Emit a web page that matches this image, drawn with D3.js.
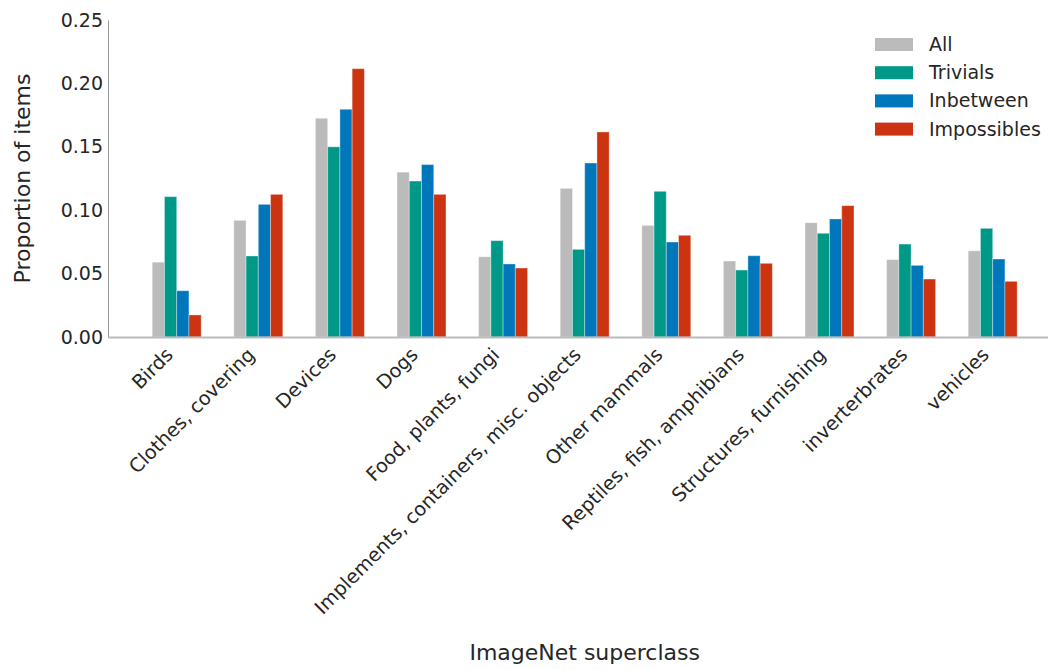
<!DOCTYPE html>
<html><head><meta charset="utf-8">
<script src="https://cdn.jsdelivr.net/npm/d3@7"></script>
<style>body{margin:0;background:#fff}svg{display:block}text{font-family:"DejaVu Sans",sans-serif;fill:#262626}</style>
</head><body>
<svg id="c" width="1048" height="669"></svg>
<script>
const categories = ["Birds","Clothes, covering","Devices","Dogs","Food, plants, fungi","Implements, containers, misc. objects","Other mammals","Reptiles, fish, amphibians","Structures, furnishing","inverterbrates","vehicles"];
const seriesNames = ["All","Trivials","Inbetween","Impossibles"];
const seriesColors = ["#bbbbbb","#009988","#0077bb","#cc3311"];
const allValues        = [0.059,0.092,0.1725,0.130,0.0633,0.1172,0.0880,0.0599,0.0901,0.0610,0.0680];
const trivialsValues   = [0.1107,0.0639,0.150,0.123,0.0760,0.0691,0.1149,0.0528,0.0818,0.0733,0.0857];
const inbetweenValues  = [0.0365,0.1046,0.1796,0.136,0.0576,0.1372,0.0749,0.0641,0.0931,0.0565,0.0615];
const impossiblesValues= [0.0174,0.1125,0.2116,0.1125,0.0544,0.1617,0.0802,0.0581,0.1036,0.0457,0.0439];
const yTicks = [0,0.05,0.10,0.15,0.20,0.25];
const seriesValues = [allValues,trivialsValues,inbetweenValues,impossiblesValues];

const svg = d3.select("#c");
const mLeft = 108, mRight = 1061.4, mTop = 20, mBottom = 337;
const x = d3.scaleLinear().domain([-0.842, categories.length - 1 + 0.842]).range([mLeft, mRight]);
const y = d3.scaleLinear().domain([0, 0.25]).range([mBottom, mTop]);
const bw = 0.15;

// bars
seriesValues.forEach((vals, k) => {
  svg.append("g").selectAll("rect").data(vals).join("rect")
    .attr("x", (d, i) => x(i - 0.3 + k * bw))
    .attr("width", x(bw) - x(0))
    .attr("y", d => y(d))
    .attr("height", d => y(0) - y(d))
    .attr("fill", seriesColors[k])
    .attr("stroke", "#fff").attr("stroke-opacity", 0.35).attr("stroke-width", 1);
});

// y axis
const ya = svg.append("g").attr("transform", `translate(${mLeft},0)`)
  .call(d3.axisLeft(y).tickValues(yTicks).tickFormat(d3.format(".2f")).tickSize(0).tickPadding(5));
ya.select(".domain").attr("stroke", "#999").attr("stroke-width", 1);
ya.selectAll("text").style("font-size", "19px").attr("fill", "#262626").style("font-family", '"DejaVu Sans"');

// x axis
const xa = svg.append("g").attr("transform", `translate(0,${mBottom})`)
  .call(d3.axisBottom(x).tickValues(d3.range(categories.length)).tickFormat(i => categories[i]).tickSize(0).tickPadding(0));
xa.select(".domain").attr("stroke", "#bbb").attr("stroke-width", 2);
xa.selectAll("text")
  .style("font-size", "19.3px").style("font-family", '"DejaVu Sans"').attr("fill", "#262626")
  .attr("text-anchor", "end").attr("dy", null).attr("y", 0)
  .attr("transform", "translate(-3,19) rotate(-45)");

// axis titles
svg.append("text").attr("x", (mLeft + mRight) / 2).attr("y", 660).attr("text-anchor", "middle")
  .style("font-size", "22px").text("ImageNet superclass");
svg.append("text").attr("transform", `translate(30,${(mTop + mBottom) / 2}) rotate(-90)`)
  .attr("text-anchor", "middle").style("font-size", "22px").text("Proportion of items");

// legend
const lg = svg.append("g").attr("transform", "translate(875,38)");
seriesNames.forEach((n, k) => {
  lg.append("rect").attr("x", 0).attr("y", k * 28.2).attr("width", 38).attr("height", 13).attr("fill", seriesColors[k]);
  lg.append("text").attr("x", 54).attr("y", k * 28.2 + 13).style("font-size", "19px").text(n);
});
</script>
</body></html>
